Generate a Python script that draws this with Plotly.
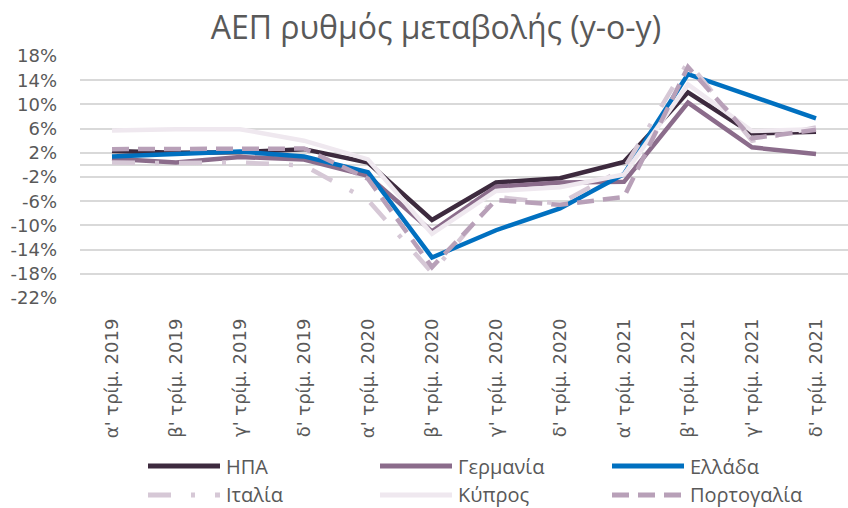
import plotly.graph_objects as go

categories = ["α' τρίμ. 2019", "β' τρίμ. 2019", "γ' τρίμ. 2019", "δ' τρίμ. 2019",
              "α' τρίμ. 2020", "β' τρίμ. 2020", "γ' τρίμ. 2020", "δ' τρίμ. 2020",
              "α' τρίμ. 2021", "β' τρίμ. 2021", "γ' τρίμ. 2021", "δ' τρίμ. 2021"]

usa = [2.3, 2.0, 2.1, 2.6, 0.4, -9.1, -2.9, -2.2, 0.5, 12.0, 5.2, 5.5]
germany = [1.0, 0.4, 1.3, 0.9, -1.8, -11.0, -3.6, -2.9, -2.8, 10.3, 2.9, 1.8]
greece = [1.4, 1.8, 2.2, 1.4, -1.2, -15.3, -10.8, -7.2, -1.5, 15.0, 11.3, 7.7]
italy = [0.4, 0.3, 0.4, -0.1, -5.8, -17.8, -5.3, -6.4, -0.6, 17.0, 4.0, 6.2]
cyprus = [5.7, 5.9, 5.9, 4.0, 0.9, -11.4, -4.3, -3.7, -1.6, 13.3, 5.6, 5.9]
portugal = [2.6, 2.6, 2.6, 2.7, -2.3, -16.9, -5.8, -6.6, -5.3, 16.2, 4.4, 5.8]

y_tickvals = [-22, -18, -14, -10, -6, -2, 2, 6, 10, 14, 18]
y_ticktext = ["-22%", "-18%", "-14%", "-10%", "-6%", "-2%", "2%", "6%", "10%", "14%", "18%"]

series_names = ["ΗΠΑ", "Γερμανία", "Ελλάδα", "Ιταλία", "Κύπρος", "Πορτογαλία"]
series_values = [usa, germany, greece, italy, cyprus, portugal]
series_colors = ["#3d2a3e", "#8b6c8b", "#0070c0", "#d6c8d6", "#efe8ef", "#b8a0b8"]
series_dashes = ["solid", "solid", "solid", "23px,20px,4px,20px", "solid", "17px,9px"]

fig = go.Figure()
for name, vals, color, dash in zip(series_names, series_values, series_colors, series_dashes):
    fig.add_trace(go.Scatter(
        x=categories, y=vals, name=name, mode="lines", showlegend=False,
        line=dict(color=color, width=4.5, dash=dash),
    ))

# custom legend (2 rows x 3 columns) below the plot, in paper coordinates
L, T, PW, PH = 80, 56, 768, 242
def px_x(px):
    return (px - L) / PW
def px_y(py):
    return (T + PH - py) / PH

col_x = [148, 380, 612]
row_y = [466, 495]
line_len = 72
legend_font = dict(family="Open Sans", size=20, color="#595959")
for i, (name, color, dash) in enumerate(zip(series_names, series_colors, series_dashes)):
    cx = col_x[i % 3]
    ry = row_y[i // 3]
    fig.add_shape(type="line", xref="paper", yref="paper",
                  x0=px_x(cx), x1=px_x(cx + line_len), y0=px_y(ry), y1=px_y(ry),
                  line=dict(color=color, width=5, dash=dash))
    fig.add_annotation(xref="paper", yref="paper", x=px_x(cx + line_len + 4), y=px_y(ry),
                       xanchor="left", yanchor="middle", showarrow=False,
                       text=name, font=legend_font)

fig.update_layout(
    width=848, height=508,
    margin=dict(l=L, r=848 - L - PW, t=T, b=508 - T - PH, autoexpand=False),
    paper_bgcolor="white", plot_bgcolor="white",
    title=dict(text="ΑΕΠ ρυθμός μεταβολής (y-o-y)", x=0.514, xanchor="center",
               y=0.946, yanchor="middle",
               font=dict(family="Open Sans", size=32, color="#595959")),
    font=dict(family="DejaVu Sans", color="#595959"),
    showlegend=False,
)
fig.update_xaxes(
    type="category", range=[-0.5, 11.5], showgrid=False, showline=False,
    tickangle=-90, ticks="", ticklabelstandoff=16,
    tickfont=dict(family="DejaVu Sans", size=18, color="#595959"),
)
fig.update_yaxes(
    range=[-22, 18], tickvals=y_tickvals, ticktext=y_ticktext,
    showgrid=True, gridcolor="#d9d9d9", gridwidth=1.5,
    zeroline=True, zerolinecolor="#d9d9d9", zerolinewidth=1.5,
    showline=False, ticks="", ticklabelstandoff=22,
    tickfont=dict(family="DejaVu Sans", size=18, color="#595959"),
)

fig.write_html("out.html", config={"displayModeBar": False},
               post_script="document.body.style.margin='0px';")
